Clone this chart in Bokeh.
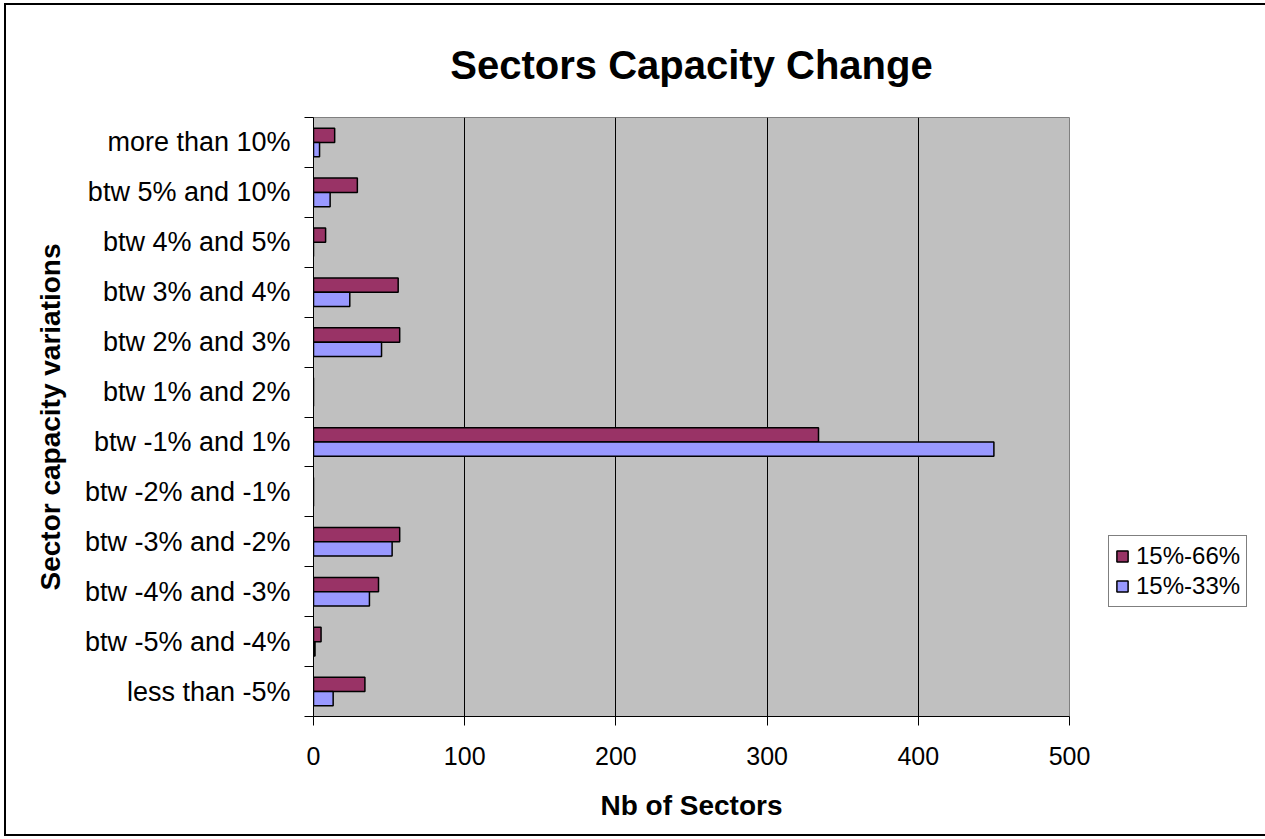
from bokeh.plotting import figure
from bokeh.models import Range1d, FixedTicker, Legend, LegendItem, ColumnDataSource, InlineStyleSheet
from bokeh.embed import file_html
from bokeh.resources import INLINE

categories = ["less than -5%", "btw -5% and -4%", "btw -4% and -3%", "btw -3% and -2%",
              "btw -2% and -1%", "btw -1% and 1%", "btw 1% and 2%", "btw 2% and 3%",
              "btw 3% and 4%", "btw 4% and 5%", "btw 5% and 10%", "more than 10%"]
series_66 = [34, 5, 43, 57, 0, 334, 0, 57, 56, 8, 29, 14]
series_33 = [13, 1, 37, 52, 0, 450, 0, 45, 24, 0, 11, 4]
x_ticks = [0, 100, 200, 300, 400, 500]

FONT = "Liberation Sans"
bar_h = 1 / 3.5
idx = list(range(len(categories)))

src = ColumnDataSource(dict(
    y66=[i + bar_h / 2 for i in idx],
    y33=[i - bar_h / 2 for i in idx],
    v66=series_66,
    v33=series_33,
))

p = figure(frame_width=756, frame_height=599, output_backend="svg", toolbar_location=None,
           x_range=Range1d(0, 500), y_range=Range1d(-0.5, len(categories) - 0.5),
           min_border_left=313, min_border_right=196, min_border_top=117, min_border_bottom=123)

p.background_fill_color = "#C0C0C0"
p.border_fill_color = "white"
p.outline_line_color = "#808080"
p.outline_line_width = 1

r66 = p.hbar(y="y66", right="v66", left=0, height=bar_h, source=src,
             fill_color="#993366", line_color="black", line_width=1.5)
r33 = p.hbar(y="y33", right="v33", left=0, height=bar_h, source=src,
             fill_color="#9999FF", line_color="black", line_width=1.5)

# title
p.title.text = "Sectors Capacity Change"
p.title.align = "center"
p.title.text_font = FONT
p.title.text_font_size = "40px"
p.title.text_font_style = "bold"
p.title.text_color = "black"
p.title.standoff = 62

# x axis
xa = p.xaxis[0]
xa.ticker = FixedTicker(ticks=x_ticks)
xa.axis_line_color = "black"
xa.major_tick_line_color = "black"
xa.major_tick_out = 9
xa.major_tick_in = 0
xa.minor_tick_line_color = None
xa.major_label_text_font = FONT
xa.major_label_text_font_size = "25px"
xa.major_label_text_color = "black"
xa.major_label_standoff = 21
xa.axis_label = "Nb of Sectors"
xa.axis_label_text_font = FONT
xa.axis_label_text_font_size = "28px"
xa.axis_label_text_font_style = "bold"
xa.axis_label_text_color = "black"
xa.axis_label_standoff = 22

# y axis
ya = p.yaxis[0]
ya.ticker = FixedTicker(ticks=idx, minor_ticks=[i - 0.5 for i in range(len(categories) + 1)])
ya.major_label_overrides = {i: c for i, c in enumerate(categories)}
ya.axis_line_color = "black"
ya.major_tick_line_color = None
ya.major_tick_out = 0
ya.major_tick_in = 0
ya.minor_tick_line_color = "black"
ya.minor_tick_out = 9
ya.minor_tick_in = 0
ya.major_label_text_font = FONT
ya.major_label_text_font_size = "27px"
ya.major_label_text_color = "black"
ya.major_label_standoff = 14
ya.axis_label = "Sector capacity variations"
ya.axis_label_text_font = FONT
ya.axis_label_text_font_size = "28px"
ya.axis_label_text_font_style = "bold"
ya.axis_label_text_color = "black"
ya.axis_label_standoff = 16

# grid
p.xgrid.ticker = FixedTicker(ticks=x_ticks[1:-1])
p.xgrid.grid_line_color = "black"
p.xgrid.grid_line_width = 1
p.ygrid.grid_line_color = None

legend = Legend(items=[LegendItem(label="15%-66%", renderers=[r66]),
                       LegendItem(label="15%-33%", renderers=[r33])],
                location=(39, 109), orientation="vertical")
legend.border_line_color = "black"
legend.border_line_width = 1
legend.background_fill_color = "white"
legend.background_fill_alpha = 1
legend.label_text_font = FONT
legend.label_text_font_size = "24px"
legend.label_text_color = "black"
legend.glyph_width = 14
legend.glyph_height = 14
legend.label_standoff = 7
legend.padding = 6
legend.spacing = 2
legend.margin = 0
p.add_layout(legend, "right")

p.stylesheets = [InlineStyleSheet(css=(
    ":host { position: relative; }"
    ":host::after { content: ''; position: absolute; left: 4px; top: 3px; right: 3px; bottom: 3px;"
    " border: 2px solid black; pointer-events: none; z-index: 1000; }"
))]

open("out.html", "w").write(file_html(p, INLINE))
